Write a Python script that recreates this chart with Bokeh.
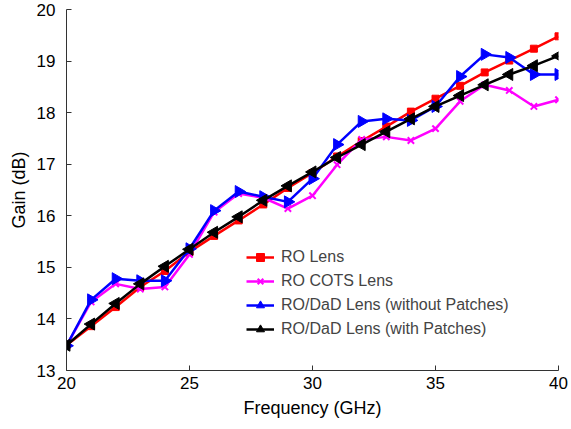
import numpy as np
from bokeh.plotting import figure
from bokeh.models import Range1d, FixedTicker, Legend, LegendItem
from bokeh.embed import file_html
from bokeh.resources import INLINE

freq = list(range(20, 41))
ro_lens = [13.49, 13.86, 14.23, 14.62, 14.93, 15.30, 15.61, 15.91, 16.22, 16.54, 16.83,
           17.15, 17.45, 17.73, 18.02, 18.27, 18.52, 18.78, 19.01, 19.24, 19.48]
ro_cots = [13.48, 14.33, 14.68, 14.58, 14.62, 15.25, 16.07, 16.43, 16.35, 16.14, 16.39,
           16.99, 17.48, 17.53, 17.46, 17.69, 18.22, 18.54, 18.43, 18.12, 18.25]
dad_without = [13.48, 14.37, 14.78, 14.74, 14.74, 15.36, 16.10, 16.47, 16.37, 16.27, 16.72,
               17.38, 17.83, 17.88, 17.85, 18.12, 18.70, 19.13, 19.07, 18.74, 18.74]
dad_with = [13.49, 13.90, 14.30, 14.68, 15.02, 15.35, 15.68, 15.98, 16.30, 16.58, 16.85,
            17.13, 17.38, 17.63, 17.88, 18.12, 18.33, 18.54, 18.74, 18.91, 19.10]

x_ticks = [20, 25, 30, 35, 40]
y_ticks = [13, 14, 15, 16, 17, 18, 19, 20]

FONT = "Liberation Sans"

p = figure(width=570, height=425, output_backend="svg", toolbar_location=None,
           x_range=Range1d(20, 40), y_range=Range1d(13, 20),
           min_border_left=66, min_border_right=12, min_border_top=9, min_border_bottom=55)
p.outline_line_color = None
p.xgrid.visible = False
p.ygrid.visible = False

for ax in (p.xaxis[0], p.yaxis[0]):
    ax.major_tick_in = 5
    ax.major_tick_out = 0
    ax.minor_tick_line_color = None
    ax.axis_line_color = "#333333"
    ax.major_tick_line_color = "#333333"
    ax.major_label_text_font = FONT
    ax.major_label_text_font_size = "17px"
    ax.major_label_text_color = "black"
    ax.axis_label_text_font = FONT
    ax.axis_label_text_font_size = "18px"
    ax.axis_label_text_font_style = "normal"
    ax.axis_label_text_color = "black"

p.xaxis.ticker = FixedTicker(ticks=x_ticks)
p.yaxis.ticker = FixedTicker(ticks=y_ticks)
p.xaxis.axis_label = "Frequency (GHz)"
p.yaxis.axis_label = "Gain (dB)"
p.xaxis.major_label_standoff = 6
p.yaxis.major_label_standoff = 11
p.xaxis.axis_label_standoff = 6
p.yaxis.axis_label_standoff = 5

lw = 2.5
r1 = p.line(freq, ro_lens, color="red", line_width=lw)
m1 = p.scatter(freq, ro_lens, marker="square", size=7, color="red")
r2 = p.line(freq, ro_cots, color="magenta", line_width=lw)
m2 = p.scatter(freq, ro_cots, marker="x", size=9, color="magenta", line_width=2)
r3 = p.line(freq, dad_without, color="blue", line_width=lw)
m3 = p.scatter(freq, dad_without, marker="triangle", size=12, angle=-np.pi / 2, color="blue")
r4 = p.line(freq, dad_with, color="black", line_width=lw)
m4 = p.scatter(freq, dad_with, marker="triangle", size=12, angle=np.pi / 2, color="black")

legend = Legend(items=[
    LegendItem(label="RO Lens", renderers=[r1, m1]),
    LegendItem(label="RO COTS Lens", renderers=[r2, m2]),
    LegendItem(label="RO/DaD Lens (without Patches)", renderers=[r3, m3]),
    LegendItem(label="RO/DaD Lens (with Patches)", renderers=[r4, m4]),
], location=(180, 31))
legend.border_line_color = None
legend.background_fill_alpha = 0
legend.label_text_font = FONT
legend.label_text_font_size = "16px"
legend.glyph_width = 28
legend.glyph_height = 20
legend.label_height = 20
legend.spacing = 4
legend.label_standoff = 7
legend.padding = 4
p.add_layout(legend)

open("out.html", "w").write(file_html(p, INLINE))
